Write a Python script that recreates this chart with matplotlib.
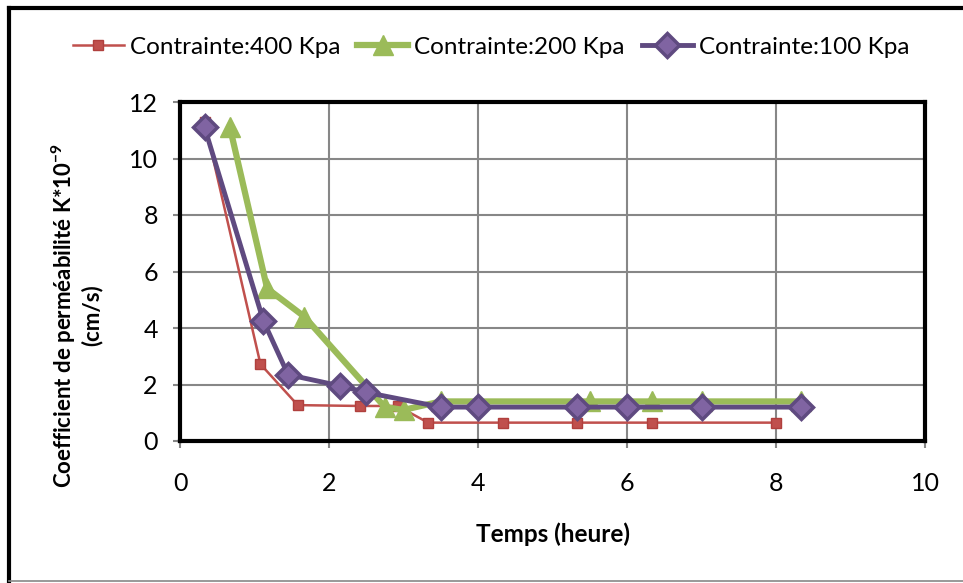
import matplotlib.pyplot as plt
from matplotlib.lines import Line2D

plt.rcParams['font.family'] = ['Lato', 'DejaVu Sans']
plt.rcParams['mathtext.fontset'] = 'custom'
plt.rcParams['mathtext.rm'] = 'Lato'
plt.rcParams['mathtext.bf'] = 'Lato:bold'

# -----------------------------
# Data
# -----------------------------
t_400 = [0.33, 1.08, 1.58, 2.42, 2.92, 3.33, 4.33, 5.33, 6.33, 8.0]
k_400 = [11.3, 2.72, 1.27, 1.24, 1.24, 0.65, 0.65, 0.65, 0.65, 0.65]

t_200 = [0.67, 1.17, 1.67, 2.75, 3.0, 3.5, 5.5, 6.33, 7.0, 8.33]
k_200 = [11.1, 5.4, 4.4, 1.2, 1.1, 1.4, 1.4, 1.4, 1.4, 1.4]

t_100 = [0.33, 1.12, 1.45, 2.15, 2.5, 3.5, 4.0, 5.33, 6.0, 7.0, 8.33]
k_100 = [11.1, 4.25, 2.35, 1.95, 1.72, 1.2, 1.2, 1.2, 1.2, 1.2, 1.2]

labels = ["Contrainte:400 Kpa", "Contrainte:200 Kpa", "Contrainte:100 Kpa"]

# -----------------------------
# Plot
# -----------------------------
fig = plt.figure(figsize=(9.63, 5.83), dpi=100)
ax = fig.add_axes([180 / 963, 1 - 441 / 583, 745 / 963, 339 / 583])

ax.plot(t_400, k_400, color='#C0504D', lw=1.8, marker='s', ms=7,
        mfc='#C0504D', mec='#B0403D', label=labels[0], zorder=3)
ax.plot(t_200, k_200, color='#9BBB59', lw=4.5, marker='^', ms=14,
        mfc='#9BBB59', mec='#9BBB59', label=labels[1], zorder=4)
ax.plot(t_100, k_100, color='#5F4A80', lw=3.5, marker='D', ms=12,
        mfc='#8064A2', mec='#5F4A80', mew=2.5, label=labels[2], zorder=5)

ax.set_xlim(0, 10)
ax.set_ylim(0, 12)
ax.set_xticks(range(0, 11, 2))
ax.set_yticks(range(0, 13, 2))
ax.grid(True, color='#878787', lw=1.5)
ax.set_axisbelow(True)
ax.tick_params(axis='both', labelsize=18, color='#878787', length=5, width=1.5)
ax.tick_params(axis='x', pad=17)
ax.tick_params(axis='y', pad=11)
for s in ax.spines.values():
    s.set_color('black')
    s.set_linewidth(3)

ax.set_xlabel("Temps (heure)", fontsize=17.5, fontweight='bold', labelpad=20)
fig.text(76 / 963, 1 - 315 / 583,
         "Coefficient de perméabilité K*10$^{\\mathbf{-9}}$\n(cm/s)",
         rotation=90, ha='center', va='center', fontsize=16,
         fontweight='bold', linespacing=1.15)

ax.legend(loc='center', bbox_to_anchor=(491 / 963, 1 - 47 / 583),
          bbox_transform=fig.transFigure, ncol=3, frameon=False,
          fontsize=17.5, handlelength=2.1, columnspacing=0.7, handletextpad=0.25)

# outer chart border (left/top black, bottom grey)
fig.add_artist(Line2D([9 / 963, 9 / 963], [0.004, 1 - 8 / 583],
                      transform=fig.transFigure, color='black', lw=3))
fig.add_artist(Line2D([9 / 963, 1.0], [1 - 8 / 583, 1 - 8 / 583],
                      transform=fig.transFigure, color='black', lw=3))
fig.add_artist(Line2D([9 / 963, 1.0], [0.004, 0.004],
                      transform=fig.transFigure, color='#878787', lw=1.2))

fig.savefig("out.png", dpi=100)
